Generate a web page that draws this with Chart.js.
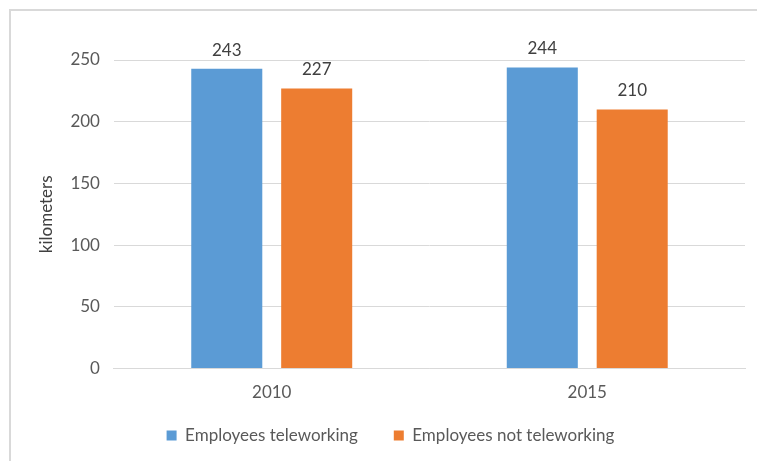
<!DOCTYPE html>
<html>
<head>
<meta charset="utf-8">
<script src="https://cdn.jsdelivr.net/npm/chart.js@4"></script>
<style>
  html, body { margin: 0; padding: 0; background: #fff; }
  #frame {
    position: absolute; left: 9px; top: 9px;
    width: 800px; height: 500px;
    border: 2px solid #d9d9d9;
  }
  #wrap { position: absolute; left: 0; top: 0; width: 757px; height: 461px; }
</style>
</head>
<body>
<div id="frame"></div>
<div id="wrap"><canvas id="myChart" width="757" height="461"></canvas></div>
<script>
// chart data
let years = ['2010', '2015'];
let teleworking = [243, 244];
let notTeleworking = [227, 210];
let seriesNames = ['Employees teleworking', 'Employees not teleworking'];
let yTicks = [0, 50, 100, 150, 200, 250];

let fontFamily = 'Lato, "Open Sans", sans-serif';
let fontSize = 17;
let legendTrim = 25; // legend box is shorter than its horizontal padding implies

// draws the value above each bar
let valueLabels = {
  id: 'valueLabels',
  afterDatasetsDraw(chart) {
    let ctx = chart.ctx;
    ctx.save();
    ctx.font = fontSize + 'px ' + fontFamily;
    ctx.fillStyle = '#404040';
    ctx.textAlign = 'center';
    ctx.textBaseline = 'bottom';
    chart.data.datasets.forEach((ds, i) => {
      chart.getDatasetMeta(i).data.forEach((bar, j) => {
        ctx.fillText(ds.data[j], bar.x, bar.y - 10);
      });
    });
    ctx.restore();
  }
};

// keep wide gaps between legend items without a tall legend box
let tightLegend = {
  id: 'tightLegend',
  afterInit(chart) {
    let legend = chart.legend;
    let fit = legend.fit;
    legend.fit = function() {
      fit.call(this);
      this.height -= legendTrim;
    };
    legend.draw = function() {
      let c = this.ctx;
      c.save();
      c.translate(0, -legendTrim - 1);
      this._draw();
      c.restore();
    };
  }
};

let ctx = document.getElementById('myChart');
let myChart = new Chart(ctx, {
  type: 'bar',
  data: {
    labels: years,
    datasets: [
      {
        label: seriesNames[0],
        data: teleworking,
        backgroundColor: '#5b9bd5',
        categoryPercentage: 0.57,
        barPercentage: 0.79
      },
      {
        label: seriesNames[1],
        data: notTeleworking,
        backgroundColor: '#ed7d31',
        categoryPercentage: 0.57,
        barPercentage: 0.79
      }
    ]
  },
  options: {
    responsive: false,
    animation: false,
    layout: { padding: { left: 36, right: 12, top: 60, bottom: 6 } },
    plugins: {
      legend: {
        position: 'bottom',
        labels: {
          boxWidth: 10,
          boxHeight: 10,
          padding: 36,
          color: '#595959',
          font: { family: fontFamily, size: fontSize }
        }
      },
      tooltip: { enabled: false }
    },
    scales: {
      x: {
        grid: { display: false, drawTicks: false },
        border: { color: '#d9d9d9' },
        ticks: {
          color: '#595959',
          padding: 14,
          font: { family: fontFamily, size: fontSize }
        }
      },
      y: {
        min: 0,
        max: 250,
        afterBuildTicks(axis) {
          axis.ticks = yTicks.map(v => ({ value: v }));
        },
        grid: { color: '#d9d9d9', drawTicks: false },
        border: { display: false },
        ticks: {
          color: '#595959',
          padding: 14,
          font: { family: fontFamily, size: fontSize }
        },
        title: {
          display: true,
          text: 'kilometers',
          color: '#404040',
          padding: { top: 0, bottom: 0 },
          font: { family: fontFamily, size: fontSize }
        }
      }
    }
  },
  plugins: [valueLabels, tightLegend]
});
</script>
</body>
</html>
